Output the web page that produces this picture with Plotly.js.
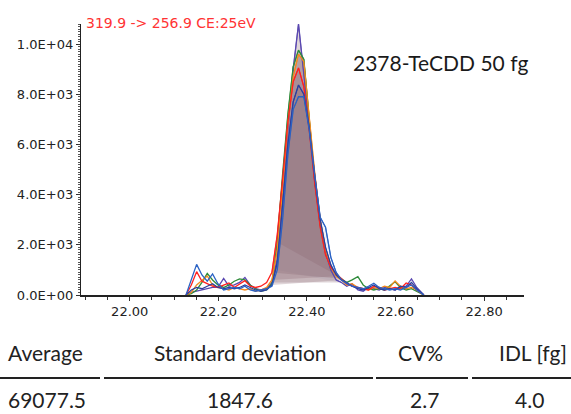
<!DOCTYPE html>
<html>
<head>
<meta charset="utf-8">
<script src="https://cdn.plot.ly/plotly-3.0.1.min.js"></script>
<style>html,body{margin:0;padding:0;background:#fff;}#chart{width:571px;height:414px;}</style>
</head>
<body>
<div id="chart"></div>
<script>
// Retention times (min)
const rt = [22.127,22.139,22.151,22.163,22.175,22.187,22.199,22.212,22.224,22.236,
            22.248,22.260,22.272,22.284,22.296,22.309,22.321,22.333,22.345,22.357,
            22.369,22.381,22.393,22.405,22.418,22.430,22.442,22.454,22.466,22.478,
            22.490,22.502,22.515,22.527,22.539,22.551,22.563,22.575,22.587,22.599,
            22.611,22.624,22.636,22.648,22.664];

// Replicate injections (intensity)
const inj1 = [0,100,150,200,250,300,300,660,350,400,500,700,400,250,200,250,500,1400,3800,6600,
              9000,10800,8800,6800,4500,2900,1700,1000,600,500,350,450,200,150,300,250,200,300,250,200,
              300,350,640,300,0];
const inj2 = [0,50,200,500,860,600,400,300,400,550,640,600,400,250,150,200,450,2100,4800,7200,
              9100,9760,9400,7000,4500,2800,1800,1100,800,650,500,600,730,400,250,200,250,200,350,530,
              300,200,250,150,0];
const inj3 = [0,100,400,600,760,400,300,250,200,300,250,200,250,150,200,300,600,1800,4200,6800,
              8700,9600,9300,7200,4800,3000,1800,1100,750,600,400,450,300,250,200,300,250,350,300,560,
              350,250,300,200,0];
const inj4 = [0,400,930,550,450,350,300,400,480,300,450,570,350,300,350,500,900,2400,4600,6900,
              8500,9050,8300,6600,4400,2700,1600,1100,850,650,450,350,300,250,200,350,300,200,250,300,
              250,480,400,200,0];
const inj5 = [0,200,300,250,350,450,300,250,300,250,300,400,300,200,150,200,400,1300,3600,6000,
              7700,8370,8000,6700,4700,3000,1900,1200,800,600,500,350,250,200,300,400,250,200,250,200,
              350,300,500,250,0];
const inj6 = [0,600,1220,800,550,840,450,200,250,300,250,350,200,150,200,250,350,1000,3000,5600,
              7400,7900,7900,6600,4700,3100,2700,1500,900,600,450,350,300,250,350,470,300,250,200,250,
              200,300,400,200,0];

// Integration limits (index into rt) for each injection
const peakStart = [16,17,16,16,16,17];
const peakEnd   = [29,28,28,29,29,30];

const yTickVals = [0,2000,4000,6000,8000,10000];
const yTickText = ["0.0E+00","2.0E+03","4.0E+03","6.0E+03","8.0E+03","1.0E+04"];
const xTickVals = [22.0,22.2,22.4,22.6,22.8];
const xTickText = ["22.00","22.20","22.40","22.60","22.80"];

const tableHeader = ["Average","Standard deviation","CV%","IDL [fg]"];
const tableValues = ["69077.5","1847.6","2.7","4.0"];

const series = [inj1,inj2,inj3,inj4,inj5,inj6];
const colors = ["#5a48b0","#2e8b3a","#f58a1f","#ff2020","#2b3f9e","#2a62c4"];
const fills  = ["rgba(135,100,110,0.27)","rgba(135,100,110,0.27)","rgba(135,100,110,0.27)",
                "rgba(135,100,110,0.27)","rgba(135,100,110,0.27)","rgba(160,180,210,0.16)"];
const fillOrder = [5,0,1,2,3,4];

const traces = [];
fillOrder.forEach(i=>{
  const s = series[i];
  traces.push({
    x: rt.slice(peakStart[i], peakEnd[i]+1),
    y: s.slice(peakStart[i], peakEnd[i]+1),
    type:'scatter', mode:'lines', fill:'toself', fillcolor: fills[i],
    line:{color:colors[i], width:0.8}, hoverinfo:'skip'
  });
});
series.forEach((s,i)=>{
  traces.push({x: rt, y: s, type:'scatter', mode:'lines',
    line:{color:colors[i], width:1.3}});
});

// plot area: x 81..524, y 24..295 (pixels)
const L=81, R=524, T=24, B=295;
const fx = px => (px-L)/(R-L);
const fy = py => (B-py)/(B-T);

const tableFont = {family:'Lato', size:21, color:'#222'};
const annotations = [
  {text:'2378-TeCDD 50 fg', xref:'paper', yref:'paper', x:fx(351), y:fy(62),
   xanchor:'left', yanchor:'middle', showarrow:false,
   font:{family:'Lato', size:21, color:'#1a1a1a'}}
];
const headX = [6, 240, 420, 533];
const headAnchor = ['left','center','center','center'];
const valX = [6, 240, 424, 529];
tableHeader.forEach((t,i)=>annotations.push({text:t, xref:'paper', yref:'paper',
  x:fx(headX[i]), y:fy(352), xanchor:headAnchor[i], yanchor:'middle', showarrow:false, font:tableFont}));
tableValues.forEach((t,i)=>annotations.push({text:t, xref:'paper', yref:'paper',
  x:fx(valX[i]), y:fy(399), xanchor:headAnchor[i], yanchor:'middle', showarrow:false, font:tableFont}));

const segs = [[0,100],[104,373],[376,468],[472,571]];
const shapes = segs.map(s=>({type:'line', xref:'paper', yref:'paper',
  x0:fx(s[0]), x1:fx(s[1]), y0:fy(378), y1:fy(378), line:{color:'#222', width:2}}));

const layout = {
  width:571, height:414,
  margin:{l:L, r:571-R, t:T, b:414-B},
  paper_bgcolor:'#fff', plot_bgcolor:'#fff',
  showlegend:false,
  title:{text:'319.9 -> 256.9 CE:25eV', font:{family:'DejaVu Sans', size:14, color:'#ff3333'},
         xref:'container', yref:'container', x:86/571, xanchor:'left', y:1-23/414, yanchor:'middle'},
  xaxis:{range:[21.89,22.89], tickvals:xTickVals, ticktext:xTickText, ticks:'outside', ticklen:4,
         tickcolor:'#333', showline:true, linecolor:'#222', linewidth:1.5, showgrid:false, zeroline:false,
         tickfont:{family:'DejaVu Sans', size:13, color:'#222'},
         minor:{dtick:0.05, tick0:22, ticks:'outside', ticklen:3, tickcolor:'#333', showgrid:false}},
  yaxis:{range:[0,10800], tickvals:yTickVals, ticktext:yTickText, ticks:'outside', ticklen:4,
         tickcolor:'#333', showline:true, linecolor:'#222', linewidth:1.2, showgrid:false, zeroline:false,
         tickfont:{family:'DejaVu Sans', size:13, color:'#222'},
         minor:{dtick:100, tick0:0, ticks:'outside', ticklen:2, tickcolor:'#555', showgrid:false}},
  annotations: annotations,
  shapes: shapes
};

Plotly.newPlot('chart', traces, layout, {staticPlot:true, displayModeBar:false});
</script>
</body>
</html>
